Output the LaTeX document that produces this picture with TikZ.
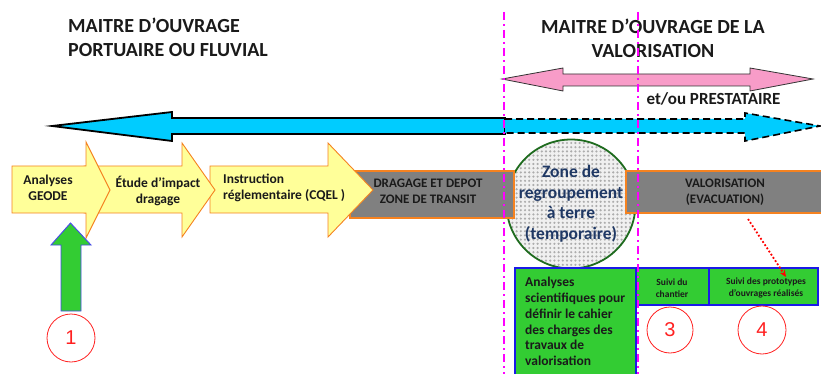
\documentclass[tikz,border=0pt]{standalone}
\usepackage{fontspec}
\setmainfont{Carlito}
\newfontfamily\numfont{Liberation Sans}
\usetikzlibrary{arrows.meta,patterns.meta}
\definecolor{skyb}{HTML}{00CCFF}
\definecolor{pinkf}{HTML}{F89CC8}
\definecolor{yel}{HTML}{FFFF99}
\definecolor{orng}{HTML}{F58220}
\definecolor{grayb}{HTML}{808080}
\definecolor{grn}{HTML}{33CC33}
\definecolor{bluel}{HTML}{1A1AE6}
\definecolor{darkgrn}{HTML}{1E6B1E}
\definecolor{navy}{HTML}{1F3864}
\definecolor{magl}{HTML}{FF00FF}
\definecolor{redc}{HTML}{FF2020}
\definecolor{txt}{HTML}{1A1A1A}
\begin{document}
\begin{tikzpicture}[x=1pt,y=-1pt,
  title/.style={font=\fontsize{20}{24}\selectfont\bfseries, text=txt, inner sep=0pt},
  yelarrow/.style={fill=yel, draw=orng, line width=0.9pt, line join=miter},
  yeltext/.style={font=\fontsize{13.5}{15.5}\selectfont\bfseries, text=txt, inner sep=0pt},
  graybox/.style={fill=grayb, draw=orng, line width=1.1pt},
  graytext/.style={font=\fontsize{13}{16}\selectfont\bfseries, text=txt, inner sep=0pt, align=center},
  greenbox/.style={fill=grn, draw=bluel, line width=1.1pt},
  numcirc/.style={circle, draw=redc, line width=0.8pt, minimum size=48pt, inner sep=0pt,
     text=redc, font=\numfont\fontsize{20}{20}\selectfont},
  magline/.style={draw=magl, line width=2.6pt, dash pattern=on 8pt off 4pt on 2pt off 4pt},
  reddot/.style={draw=red, line width=1.8pt, dotted, -{Stealth[length=7pt,width=6pt]}}
]
\useasboundingbox (0,0) rectangle (821,374);
\clip (0,0) rectangle (821,374);

% titles
\node[title, anchor=west, align=left] (tl) at (68,37) {MAITRE D’OUVRAGE\\PORTUAIRE OU FLUVIAL};
\node[title, align=center] (tr) at (653,38.5) {MAITRE D’OUVRAGE DE LA\\VALORISATION};

% pink double arrow
\draw[fill=pinkf, draw=black!80, line width=0.8pt, line join=miter]
  (502,79) -- (563,68) -- (563,74) -- (750,74) -- (750,68) -- (813,79)
  -- (750,91) -- (750,86) -- (563,86) -- (563,91) -- cycle;
\node[font=\fontsize{17}{20}\selectfont\bfseries, text=txt, inner sep=0pt] (presta) at (713.5,99) {et/ou PRESTATAIRE};

% blue arrow, solid left part
\draw[fill=skyb, draw=black, line width=1.8pt, line join=miter]
  (52,126) -- (172,112) -- (172,118) -- (505,118) -- (505,134) -- (172,134) -- (172,141) -- cycle;
% blue arrow, dashed right part
\fill[skyb] (505,119) -- (745,119) -- (745,113) -- (820,126) -- (745,141) -- (745,133) -- (505,133) -- cycle;
\draw[draw=black, line width=1.6pt, dash pattern=on 7pt off 4pt]
  (505,119) -- (745,119) -- (745,113) -- (820,126) -- (745,141) -- (745,133) -- (505,133);

% zone circle
\node[circle, minimum size=129pt, inner sep=0pt, fill=gray!12] (zone) at (571,204) {};
\fill[pattern={Dots[distance=4.2pt,radius=1.2pt]}, pattern color=gray!65] (zone.center) circle[radius=64.5];
\draw[darkgrn, line width=1.8pt] (zone.center) circle[radius=64.5];

% gray boxes
\draw[graybox] (350,171) rectangle (514,218);
\node[graytext] (drag) at (428,191.5) {DRAGAGE ET DEPOT\\ZONE DE TRANSIT};
\draw[graybox] (626,171) rectangle (830,213);
\node[graytext] (valo) at (725,192) {VALORISATION\\(EVACUATION)};

% circle text
\node[font=\fontsize{17.5}{20.5}\selectfont\bfseries, text=navy, align=center, inner sep=0pt] (zonetxt) at (571,203.5)
  {Zone de\\regroupement\\à terre\\(temporaire)};

% yellow arrows
\draw[yelarrow] (210,166) -- (328,166) -- (328,143) -- (373,190) -- (328,237) -- (328,213) -- (210,213) -- cycle;
\draw[yelarrow] (84,166) -- (182,166) -- (182,143) -- (215,190) -- (182,237) -- (182,213) -- (84,213) -- cycle;
\draw[yelarrow] (12,166) -- (86,166) -- (86,142) -- (110,190) -- (86,238) -- (86,213) -- (12,213) -- cycle;
\node[yeltext, align=center] (geode) at (48,188) {Analyses\\GEODE};
\node[yeltext, align=center] (etude) at (158,191) {Étude d’impact\\dragage};
\node[yeltext, align=left, anchor=west] (instr) at (223,188) {Instruction\\réglementaire (CQEL )};

% green boxes
\draw[greenbox] (515,268) rectangle (636,385);
\node[font=\fontsize{13.5}{15.8}\selectfont\bfseries, text=txt, align=left, anchor=north west, inner sep=0pt] (anal) at (525,277)
  {Analyses\\scientifiques pour\\définir le cahier\\des charges des\\travaux de\\valorisation};
\draw[greenbox] (636,268) rectangle (709,305);
\node[font=\fontsize{9.5}{12}\selectfont\bfseries, text=txt, align=center, inner sep=0pt] (suivi1) at (672,288) {Suivi du\\chantier};
\draw[greenbox] (709,268) rectangle (818,305);
\node[font=\fontsize{9.5}{12}\selectfont\bfseries, text=txt, align=center, inner sep=0pt] (suivi2) at (766,288) {Suivi des  prototypes\\d’ouvrages  réalisés};

% green up arrow
\draw[fill=grn, draw=bluel!80, line width=0.9pt, line join=miter]
  (61,311) -- (61,245) -- (51,245) -- (70.5,223) -- (91,245) -- (81,245) -- (81,311) -- cycle;

% number circles
\node[numcirc] (n1) at (71,338) {1};
\node[numcirc, minimum size=46pt] (n3) at (670,330) {3};
\node[numcirc] (n4) at (762,330) {4};

% red dotted arrow
\coordinate (rs) at (748,219);
\coordinate (re) at (786,277);
\draw[reddot] (rs) -- (re);

% magenta dash-dot lines
\coordinate (m1t) at (504,12);
\coordinate (m1b) at (504,380);
\coordinate (m2t) at (638,12);
\coordinate (m2b) at (638,380);
\draw[magline] (m1t) -- (m1b);
\draw[magline] (m2t) -- (m2b);
\end{tikzpicture}
\end{document}
